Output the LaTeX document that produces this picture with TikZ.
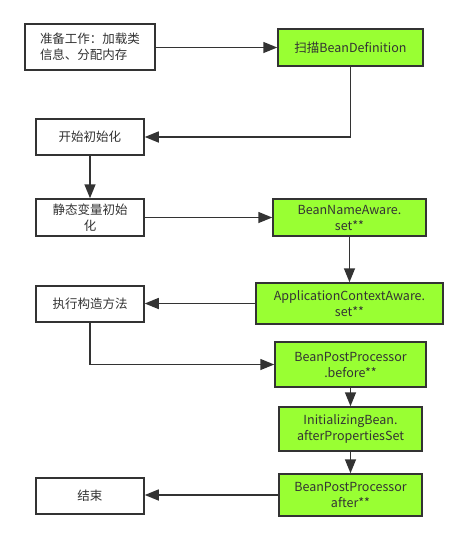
\documentclass[tikz,border=0pt]{standalone}
\usepackage{fontspec}
\setmainfont{Noto Sans CJK SC}
\usetikzlibrary{arrows.meta}
\definecolor{ln}{HTML}{333333}
\definecolor{gr}{HTML}{99FF33}
\tikzset{
  box/.style={draw=ln, line width=1.5pt, rectangle, fill=white, text=ln, inner sep=2pt,
    font=\fontsize{12.5}{16}\selectfont, align=center},
  gbox/.style={box, fill=gr},
  conn/.style={draw=ln, line width=1.5pt, -{Triangle[length=14pt,width=11pt]}}
}
\begin{document}
\begin{tikzpicture}[x=1pt,y=-1pt]
\useasboundingbox (0,0) rectangle (467,542);
\node[box, minimum width=130pt, minimum height=46pt, align=left] (b1) at (90,47) {准备工作：加载类\\信息、分配内存};
\node[gbox, minimum width=145pt, minimum height=37pt] (scan) at (350.5,47.5) {扫描BeanDefinition};
\node[box, minimum width=108pt, minimum height=36pt] (start) at (90,137) {开始初始化};
\node[box, minimum width=108pt, minimum height=37pt] (static) at (90,217.5) {静态变量初始\\化};
\node[gbox, minimum width=153pt, minimum height=37pt] (bna) at (349.5,217.5) {BeanNameAware.\\set**};
\node[gbox, minimum width=187pt, minimum height=41pt] (aca) at (349.5,303.5) {ApplicationContextAware.\\set**};
\node[box, minimum width=108pt, minimum height=36pt] (exec) at (90,304) {执行构造方法};
\node[gbox, minimum width=151pt, minimum height=45pt] (bppb) at (350.5,364.5) {BeanPostProcessor\\.before**};
\node[gbox, minimum width=143pt, minimum height=44pt] (init) at (350.5,429) {InitializingBean.\\afterPropertiesSet};
\node[gbox, minimum width=143pt, minimum height=42pt] (bppa) at (350.5,495) {BeanPostProcessor\\after**};
\node[box, minimum width=108pt, minimum height=36pt] (end) at (90,496) {结束};

\draw[conn] (b1.east |- scan.west) -- (scan.west);
\draw[conn] (scan.south) |- (start.east);
\draw[conn] (start.south) -- (static.north);
\draw[conn] (static.east) -- (bna.west);
\draw[conn] (bna.south) -- (aca.north);
\draw[conn] (aca.west) -- (exec.east |- aca.west);
\draw[conn] (exec.south) |- (bppb.west);
\draw[conn] (bppb.south) -- (init.north);
\draw[conn] (init.south) -- (bppa.north);
\draw[conn] (bppa.west) -- (end.east |- bppa.west);
\end{tikzpicture}
\end{document}
